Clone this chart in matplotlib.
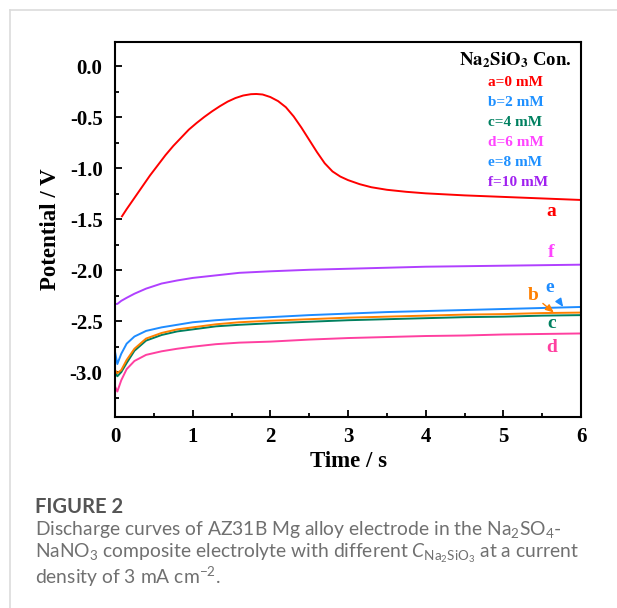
import matplotlib
matplotlib.use("Agg")
import matplotlib.pyplot as plt
from matplotlib.lines import Line2D
from matplotlib.ticker import MultipleLocator

# ---------------- data ----------------
t_a = [0.09, 0.15, 0.25, 0.35, 0.45, 0.55, 0.65, 0.75, 0.85, 0.95, 1.05, 1.15,
       1.25, 1.35, 1.45, 1.55, 1.65, 1.75, 1.82, 1.9, 2.0, 2.1, 2.2, 2.3, 2.4,
       2.5, 2.6, 2.7, 2.8, 2.9, 3.0, 3.15, 3.3, 3.5, 3.75, 4.0, 4.5, 5.0, 5.5, 6.0]
v_a = [-1.47, -1.40, -1.29, -1.18, -1.07, -0.97, -0.87, -0.78, -0.70, -0.62,
       -0.555, -0.495, -0.44, -0.39, -0.345, -0.31, -0.285, -0.272, -0.27, -0.275,
       -0.30, -0.34, -0.40, -0.49, -0.60, -0.72, -0.84, -0.95, -1.03, -1.08,
       -1.115, -1.155, -1.185, -1.21, -1.23, -1.245, -1.265, -1.28, -1.295, -1.31]

t_common = [0.0, 0.03, 0.08, 0.15, 0.25, 0.4, 0.6, 0.8, 1.0, 1.3, 1.6, 2.0,
            2.5, 3.0, 3.5, 4.0, 4.5, 5.0, 5.5, 6.0]
v_b = [-2.98, -3.01, -2.98, -2.88, -2.77, -2.67, -2.615, -2.58, -2.56, -2.53,
       -2.51, -2.495, -2.48, -2.465, -2.455, -2.445, -2.435, -2.43, -2.42, -2.415]
v_c = [-3.00, -3.04, -3.00, -2.91, -2.79, -2.69, -2.635, -2.60, -2.58, -2.55,
       -2.535, -2.52, -2.505, -2.49, -2.48, -2.47, -2.46, -2.455, -2.445, -2.44]
v_d = [-3.14, -3.19, -3.08, -2.97, -2.89, -2.83, -2.795, -2.77, -2.75, -2.725,
       -2.71, -2.70, -2.68, -2.665, -2.655, -2.645, -2.64, -2.63, -2.625, -2.62]
v_e = [-2.80, -2.92, -2.82, -2.72, -2.65, -2.595, -2.56, -2.535, -2.51, -2.49,
       -2.475, -2.46, -2.44, -2.425, -2.41, -2.40, -2.39, -2.38, -2.37, -2.36]
v_f = [-2.33, -2.33, -2.30, -2.27, -2.23, -2.18, -2.13, -2.10, -2.075, -2.05,
       -2.025, -2.01, -1.995, -1.985, -1.975, -1.965, -1.96, -1.955, -1.95, -1.945]

legend_labels = ["a=0 mM", "b=2 mM", "c=4 mM", "d=6 mM", "e=8 mM", "f=10 mM"]
legend_colors = ["#ff0000", "#1e90ff", "#008060", "#ff44ff", "#1e90ff", "#a020f0"]

x_ticks = [0, 1, 2, 3, 4, 5, 6]
y_ticks = [0.0, -0.5, -1.0, -1.5, -2.0, -2.5, -3.0]

# ---------------- style ----------------
plt.rcParams['mathtext.fontset'] = 'custom'
plt.rcParams['mathtext.rm'] = 'Lato'
plt.rcParams['mathtext.it'] = 'Lato:italic'
plt.rcParams['mathtext.bf'] = 'Lato:bold'

SERIF = 'Liberation Serif'
fig = plt.figure(figsize=(6.17, 6.08), dpi=100)
ax = fig.add_axes([0.1864, 0.3141, 0.7553, 0.6168])

lw = 1.4
ax.plot(t_a, v_a, color="#ff0000", lw=lw)
ax.plot(t_common, v_f, color="#b040ff", lw=lw)
ax.plot(t_common, v_d, color="#ff40a0", lw=lw)
ax.plot(t_common, v_c, color="#008060", lw=lw)
ax.plot(t_common, v_b, color="#ff8000", lw=lw)
ax.plot(t_common, v_e, color="#1e8cff", lw=lw)

ax.set_xlim(0, 6)
ax.set_ylim(-3.44, 0.24)
ax.set_xticks(x_ticks)
ax.set_yticks(y_ticks)
ax.set_xticklabels([str(v) for v in x_ticks])
ax.set_yticklabels([f"{v:.1f}" for v in y_ticks])
ax.xaxis.set_minor_locator(MultipleLocator(0.5))
ax.yaxis.set_minor_locator(MultipleLocator(0.25))
ax.tick_params(which='both', direction='in', top=False, right=False, width=1.3)
ax.tick_params(which='major', length=5)
ax.tick_params(which='minor', length=3)
ax.tick_params(axis='y', pad=9)
ax.tick_params(axis='x', pad=7)
for lab in ax.get_xticklabels() + ax.get_yticklabels():
    lab.set_fontfamily(SERIF)
    lab.set_fontweight('bold')
    lab.set_fontsize(15)
for s in ax.spines.values():
    s.set_linewidth(1.5)

ax.set_xlabel("Time / s", fontfamily=SERIF, fontweight='bold', fontsize=16.5, labelpad=3)
ax.set_ylabel("Potential / V", fontfamily=SERIF, fontweight='bold', fontsize=16.5, labelpad=6)

# legend-like text block
ax.text(0.860, 0.952, r"$\mathbf{Na_2SiO_3}$ Con.", transform=ax.transAxes,
        ha='center', va='center', fontfamily=SERIF, fontweight='bold',
        fontsize=13.5, math_fontfamily='stix', color='black')
for i, (lab, col) in enumerate(zip(legend_labels, legend_colors)):
    ax.text(0.800, 0.891 - i * 0.0533, lab, transform=ax.transAxes,
            ha='left', va='center', fontfamily=SERIF, fontweight='bold',
            fontsize=11, color=col)

# curve labels
lbl = dict(fontfamily=SERIF, fontweight='bold', fontsize=14, ha='center', va='center')
ax.text(5.62, -1.42, "a", color="#ff0000", **lbl)
ax.text(5.62, -1.83, "f", color="#ff44ff", **lbl)
ax.text(5.62, -2.52, "c", color="#008060", **lbl)
ax.text(5.62, -2.76, "d", color="#ff40a0", **lbl)
ax.annotate("e", xy=(5.77, -2.36), xytext=(5.60, -2.17), color="#1e8cff",
            arrowprops=dict(arrowstyle='-|>,head_length=0.35,head_width=0.15',
                            color="#1e8cff", lw=1.0, shrinkA=2, shrinkB=0), **lbl)
ax.annotate("b", xy=(5.65, -2.415), xytext=(5.39, -2.25), color="#ff8000",
            arrowprops=dict(arrowstyle='-|>,head_length=0.35,head_width=0.15',
                            color="#ff8000", lw=1.0, shrinkA=1, shrinkB=0), **lbl)

# card border
fig.add_artist(Line2D([10 / 617, 10 / 617], [0, 1 - 10 / 608], transform=fig.transFigure,
                      color="#dcdcdc", lw=1.2))
fig.add_artist(Line2D([10 / 617, 1], [1 - 10 / 608, 1 - 10 / 608], transform=fig.transFigure,
                      color="#dcdcdc", lw=1.2))

# caption
fig.text(35 / 617, 1 - 507 / 608, "FIGURE 2", fontfamily='Lato', fontweight='bold',
         fontsize=14.5, color="#555555", ha='left', va='center')
cap = dict(fontfamily='Lato', fontsize=13.9, color="#707070", ha='left', va='center')
fig.text(35 / 617, 1 - 530 / 608,
         r"Discharge curves of AZ31B Mg alloy electrode in the Na$_2$SO$_4$-", **cap)
fig.text(35 / 617, 1 - 553 / 608,
         r"NaNO$_3$ composite electrolyte with different $C_{\mathrm{Na_2SiO_3}}$ at a current", **cap)
fig.text(35 / 617, 1 - 577 / 608, r"density of 3 mA cm$^{-2}$.", **cap)

fig.savefig("out.png", dpi=100)
